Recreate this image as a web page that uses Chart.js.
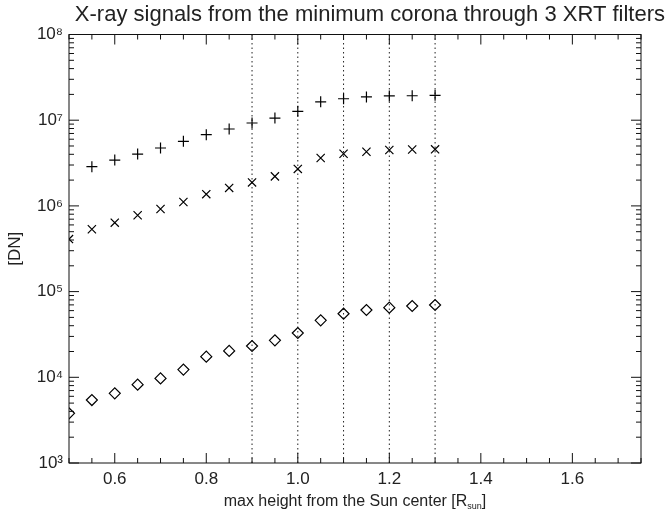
<!DOCTYPE html>
<html lang="en">
<head>
    <meta charset="UTF-8">
    <title>X-ray signals from the minimum corona</title>
    <script src="https://cdn.jsdelivr.net/npm/chart.js"></script>
    <style>
        body { margin: 0; background: #fff; }
    </style>
</head>
<body>
<canvas id="myChart" width="665" height="514"></canvas>

<script>
    // max height from the Sun center [R_sun]
    const heights = [0.5, 0.55, 0.6, 0.65, 0.7, 0.75, 0.8, 0.85, 0.9, 0.95, 1.0, 1.05, 1.1, 1.15, 1.2, 1.25, 1.3];

    // signals [DN] for the three XRT filters
    const plusSignal = [null, 2.87e6, 3.43e6, 4.03e6, 4.74e6, 5.67e6, 6.77e6, 7.89e6, 9.27e6, 1.06e7, 1.27e7, 1.64e7, 1.78e7, 1.87e7, 1.92e7, 1.93e7, 1.95e7];
    const crossSignal = [4.1e5, 5.34e5, 6.37e5, 7.77e5, 9.2e5, 1.11e6, 1.37e6, 1.62e6, 1.88e6, 2.21e6, 2.70e6, 3.62e6, 4.06e6, 4.29e6, 4.49e6, 4.55e6, 4.57e6];
    const diamondSignal = [3.8e3, 5.43e3, 6.5e3, 8.2e3, 9.7e3, 1.23e4, 1.74e4, 2.03e4, 2.32e4, 2.70e4, 3.29e4, 4.62e4, 5.52e4, 6.1e4, 6.49e4, 6.79e4, 6.98e4];

    // dotted vertical lines
    const markLines = [0.9, 1.0, 1.1, 1.2, 1.3];

    const xTicks = [0.6, 0.8, 1.0, 1.2, 1.4, 1.6];
    const yTicks = [1e3, 1e4, 1e5, 1e6, 1e7, 1e8];

    const xMin = 0.5, xMax = 1.75;
    const yMin = 1e3, yMax = 1e8;

    const FONT = '"Liberation Sans", Arial, Helvetica, sans-serif';
    const sup = ['⁰', '¹', '²', '³', '⁴', '⁵', '⁶', '⁷', '⁸', '⁹'];

    function pointsOf(values) {
        return heights.map((h, i) => ({x: h, y: values[i]}));
    }

    const datasets = [
        {label: 'plus', data: pointsOf(plusSignal), pointStyle: 'cross', pointRadius: 5.5},
        {label: 'cross', data: pointsOf(crossSignal), pointStyle: 'crossRot', pointRadius: 5.8},
        {label: 'diamond', data: pointsOf(diamondSignal), pointStyle: 'rectRot', pointRadius: 5.5}
    ].map(d => Object.assign(d, {
        showLine: false,
        borderColor: '#000',
        backgroundColor: 'rgba(0,0,0,0)',
        pointBorderWidth: 1.2,
        pointHoverRadius: d.pointRadius,
        clip: 0
    }));

    markLines.forEach(v => {
        datasets.push({
            label: 'line ' + v,
            data: [{x: v, y: yMin}, {x: v, y: yMax}],
            showLine: true,
            borderColor: '#222',
            borderWidth: 1,
            borderDash: [1.5, 3],
            pointRadius: 0,
            clip: 0
        });
    });

    // box + inward ticks, IDL style
    const frame = {
        id: 'frame',
        afterDraw(chart) {
            const ctx = chart.ctx;
            const a = chart.chartArea;
            const xs = chart.scales.x;
            const ys = chart.scales.y;
            ctx.save();
            ctx.strokeStyle = '#111';
            ctx.lineWidth = 1;
            ctx.strokeRect(a.left, a.top, a.right - a.left, a.bottom - a.top);

            ctx.beginPath();
            for (let i = 0; i <= 25; i++) {
                const v = xMin + i * 0.05;
                const px = xs.getPixelForValue(v);
                const major = xTicks.some(t => Math.abs(t - v) < 1e-6);
                const len = major ? 10 : 5;
                ctx.moveTo(px, a.bottom);
                ctx.lineTo(px, a.bottom - len);
                ctx.moveTo(px, a.top);
                ctx.lineTo(px, a.top + len);
            }
            for (let e = 3; e < 8; e++) {
                for (let m = 1; m <= 9; m++) {
                    const py = ys.getPixelForValue(m * Math.pow(10, e));
                    const len = m === 1 ? 10 : 5;
                    ctx.moveTo(a.left, py);
                    ctx.lineTo(a.left + len, py);
                    ctx.moveTo(a.right, py);
                    ctx.lineTo(a.right - len, py);
                }
            }
            ctx.stroke();

            // x axis title with subscript
            const main = 'max height from the Sun center [R';
            const sub = 'sun';
            const end = ']';
            ctx.fillStyle = '#222';
            ctx.textBaseline = 'alphabetic';
            ctx.font = '16px ' + FONT;
            const w1 = ctx.measureText(main).width;
            const w3 = ctx.measureText(end).width;
            ctx.font = '9px ' + FONT;
            const w2 = ctx.measureText(sub).width;
            const cx = (a.left + a.right) / 2 - (w1 + w2 + w3) / 2;
            const base = 506;
            ctx.font = '16px ' + FONT;
            ctx.fillText(main, cx, base);
            ctx.font = '9px ' + FONT;
            ctx.fillText(sub, cx + w1, base + 3);
            ctx.font = '16px ' + FONT;
            ctx.fillText(end, cx + w1 + w2, base);
            ctx.restore();
        }
    };

    new Chart(document.getElementById('myChart').getContext('2d'), {
        type: 'scatter',
        data: {datasets: datasets},
        plugins: [frame],
        options: {
            responsive: false,
            animation: false,
            events: [],
            layout: {padding: 0},
            plugins: {
                legend: {display: false},
                tooltip: {enabled: false},
                title: {
                    display: true,
                    text: 'X-ray signals from the minimum corona through 3 XRT filters',
                    align: 'end',
                    color: '#222',
                    font: {family: FONT, size: 22, weight: 'normal'},
                    padding: {top: 2, bottom: 6.1}
                }
            },
            scales: {
                x: {
                    type: 'linear',
                    min: xMin,
                    max: xMax,
                    grid: {display: false, drawTicks: false},
                    border: {display: false},
                    afterBuildTicks: s => { s.ticks = xTicks.map(v => ({value: v})); },
                    afterFit: s => { s.height = 51; },
                    ticks: {
                        color: '#222',
                        padding: 6,
                        maxRotation: 0,
                        autoSkip: false,
                        font: {family: FONT, size: 17},
                        callback: v => v.toFixed(1)
                    }
                },
                y: {
                    type: 'logarithmic',
                    min: yMin,
                    max: yMax,
                    grid: {display: false, drawTicks: false},
                    border: {display: false},
                    afterBuildTicks: s => { s.ticks = yTicks.map(v => ({value: v})); },
                    afterFit: s => { s.width = 69; },
                    ticks: {
                        color: '#222',
                        padding: 6,
                        autoSkip: false,
                        font: {family: FONT, size: 17},
                        callback: v => '10' + sup[Math.round(Math.log10(v))]
                    },
                    title: {
                        display: true,
                        text: '[DN]',
                        color: '#222',
                        padding: {top: 5, bottom: 0},
                        font: {family: FONT, size: 17}
                    }
                },
                yRight: {
                    type: 'logarithmic',
                    position: 'right',
                    min: yMin,
                    max: yMax,
                    grid: {display: false, drawTicks: false},
                    border: {display: false},
                    ticks: {display: false},
                    afterFit: s => { s.width = 24; }
                }
            }
        }
    });
</script>
</body>
</html>
